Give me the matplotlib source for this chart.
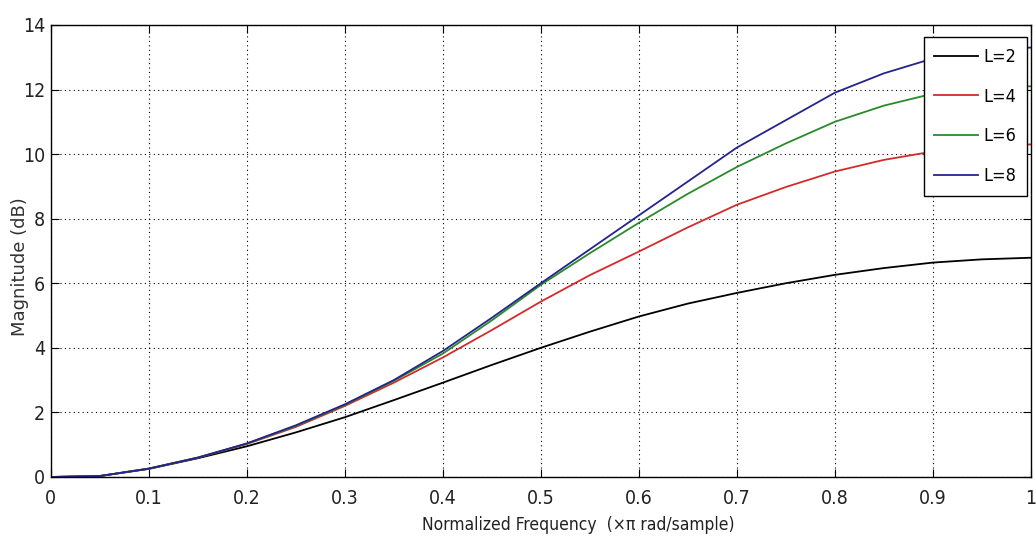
import matplotlib.pyplot as plt
import numpy as np

# normalisierte Frequenz (x pi rad/sample)
freq = [0, 0.05, 0.1, 0.15, 0.2, 0.25, 0.3, 0.35, 0.4, 0.45, 0.5,
        0.55, 0.6, 0.65, 0.7, 0.75, 0.8, 0.85, 0.9, 0.95, 1.0]

# Betrag in dB
mag_l2 = [0, 0.03, 0.25, 0.58, 0.95, 1.38, 1.85, 2.38, 2.92, 3.47, 4.0,
          4.5, 4.97, 5.37, 5.7, 6.0, 6.26, 6.47, 6.64, 6.74, 6.79]
mag_l4 = [0, 0.03, 0.26, 0.6, 1.02, 1.55, 2.2, 2.92, 3.7, 4.55, 5.43,
          6.25, 6.98, 7.73, 8.43, 8.98, 9.46, 9.82, 10.08, 10.22, 10.3]
mag_l6 = [0, 0.03, 0.26, 0.6, 1.03, 1.58, 2.23, 2.98, 3.82, 4.85, 5.95,
          6.93, 7.87, 8.77, 9.6, 10.33, 11.0, 11.5, 11.87, 12.05, 12.1]
mag_l8 = [0, 0.03, 0.26, 0.6, 1.04, 1.6, 2.25, 3.0, 3.9, 4.93, 6.0,
          7.05, 8.1, 9.15, 10.2, 11.05, 11.9, 12.5, 12.96, 13.2, 13.3]

labels = ["L=2", "L=4", "L=6", "L=8"]
colors = ["black", "#d42a2a", "#2a8a2a", "#24248c"]

fig = plt.figure(figsize=(10.36, 5.54), dpi=100)
ax = fig.add_axes([0.049, 0.139, 0.946, 0.816])

for mag, lab, col in zip([mag_l2, mag_l4, mag_l6, mag_l8], labels, colors):
    ax.plot(freq, mag, color=col, linewidth=1.3, label=lab)

ax.set_xlim(0, 1)
ax.set_ylim(0, 14)
ax.set_xticks(np.arange(0, 1.01, 0.1))
ax.set_xticklabels(["0", "0.1", "0.2", "0.3", "0.4", "0.5",
                    "0.6", "0.7", "0.8", "0.9", "1"])
ax.set_yticks(range(0, 15, 2))

ax.grid(True, color="black", linestyle=(0, (1, 3)), linewidth=0.8)
ax.tick_params(direction="in", top=True, right=True, length=6,
               labelsize=14, color="black", labelcolor="#222222")
ax.tick_params(axis="x", pad=9)
ax.tick_params(axis="y", pad=4)
for lbl in ax.get_xticklabels() + ax.get_yticklabels():
    lbl.set_family("DejaVu Sans")
    lbl.set_stretch("condensed")
for sp in ax.spines.values():
    sp.set_linewidth(1.0)

ax.set_xlabel("Normalized Frequency  (\u00d7\u03c0 rad/sample)",
              family="DejaVu Sans", stretch="condensed", fontsize=12.5,
              color="#222222")
ax.xaxis.set_label_coords(0.538, -0.086)
ax.set_ylabel("Magnitude (dB)", family="DejaVu Sans", fontsize=13,
              color="#333333")
ax.yaxis.set_label_coords(-0.022, 0.465)

leg = ax.legend(loc="upper right", bbox_to_anchor=(0.996, 0.973),
                borderaxespad=0, fancybox=False, framealpha=1,
                edgecolor="black", handlelength=2.4, handletextpad=0.3,
                labelspacing=1.2, borderpad=0.6,
                prop={"family": "DejaVu Sans", "stretch": "condensed",
                      "size": 13})
leg.get_frame().set_linewidth(1.0)

fig.savefig("out.png", dpi=100)
